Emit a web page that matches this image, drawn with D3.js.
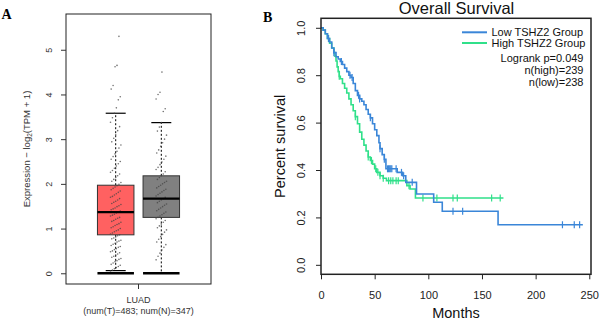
<!DOCTYPE html>
<html>
<head>
<meta charset="utf-8">
<script src="https://cdn.jsdelivr.net/npm/d3@7"></script>
<style>
  body { margin: 0; background: #fff; }
  svg { display: block; font-family: "Liberation Sans", Arial, sans-serif; }
</style>
</head>
<body>
<svg id="chart" width="600" height="325"></svg>
<script>
// ---- Panel A : boxplot data (LUAD) ----
const groups = ["Tumor", "Normal"];
const boxColors = ["#ff6161", "#808080"];
const q1 = [0.86, 1.25];
const median = [1.37, 1.67];
const q3 = [1.97, 2.18];
const whiskerLo = [0.06, 0];
const whiskerHi = [3.58, 3.37];
const tumorPoints = [0.05,0.07,0.1,0.13,0.15,0.18,0.2,0.23,0.26,0.28,0.31,0.33,0.36,0.38,0.41,0.43,0.46,0.48,0.5,0.53,0.55,0.58,0.6,0.62,0.65,0.67,0.7,0.72,0.74,0.77,0.79,0.81,0.84,0.86,0.88,0.9,0.93,0.95,0.97,1.0,1.02,1.04,1.07,1.09,1.11,1.14,1.16,1.18,1.21,1.23,1.25,1.28,1.3,1.32,1.35,1.37,1.39,1.42,1.44,1.46,1.49,1.51,1.54,1.56,1.59,1.61,1.64,1.67,1.7,1.72,1.75,1.78,1.81,1.84,1.87,1.9,1.93,1.96,1.99,2.03,2.06,2.1,2.14,2.18,2.22,2.26,2.3,2.35,2.4,2.45,2.5,2.55,2.61,2.67,2.73,2.8,2.87,2.94,3.02,3.1,3.19,3.28,3.38,3.48,3.58,3.7,3.88,3.95,4.12,4.2,4.62,4.65,5.3];
const normalPoints = [0.3,0.38,0.45,0.52,0.58,0.64,0.7,0.76,0.82,0.87,0.92,0.97,1.02,1.06,1.1,1.14,1.18,1.22,1.25,1.28,1.31,1.34,1.37,1.4,1.43,1.46,1.49,1.52,1.55,1.58,1.61,1.64,1.67,1.7,1.73,1.76,1.79,1.82,1.85,1.88,1.91,1.94,1.97,2.0,2.03,2.06,2.1,2.14,2.18,2.22,2.27,2.32,2.37,2.43,2.49,2.55,2.62,2.69,2.76,2.84,2.92,3.0,3.09,3.18,3.27,3.37,3.62,3.68,3.9,4.0,4.05,4.5];
const boxTicks = [0, 1, 2, 3, 4, 5];

// ---- Panel B : Kaplan-Meier data ----
const lowTimes = [0,2,4,6,8,10,12,14,16,18,20,22,24,26,28,30,32,34,36,38,40,42,44,46,48,50,52,54,55,57,59,60.5,71,76,79,89,105,113,165];
const lowSurv  = [1.0,0.99,0.975,0.955,0.94,0.915,0.895,0.878,0.868,0.858,0.845,0.83,0.815,0.80,0.79,0.765,0.735,0.715,0.70,0.69,0.675,0.655,0.635,0.62,0.595,0.57,0.545,0.515,0.49,0.465,0.445,0.405,0.39,0.376,0.348,0.299,0.264,0.226,0.169];
const lowEnd = 244;
const lowCensor = [7,12,19,27,29,35,36,46,55,59,62,63,64,65,66,70,75,77,85,123,132,225,236,241];
const highTimes = [0,2,4,6,8,10,12,13,14,15,16,17,18,20,22,24,26,28,30,32,34,36,38,40,42,44,46,48,50,52,55,58,61,80,83,88];
const highSurv  = [1.0,0.99,0.975,0.955,0.935,0.915,0.895,0.88,0.86,0.835,0.815,0.795,0.785,0.765,0.745,0.725,0.70,0.675,0.65,0.625,0.595,0.56,0.53,0.505,0.48,0.455,0.44,0.425,0.405,0.39,0.376,0.365,0.355,0.334,0.32,0.282];
const highEnd = 170;
const highCensor = [7,17,32,44,47,51,53,55,58,63,65,67,70,72,82,95,108,123,127,159,167];
const kmXTicks = [0, 50, 100, 150, 200, 250];
const kmYTicks = [0, 0.2, 0.4, 0.6, 0.8, 1.0];
const kmSeries = ["Low TSHZ2 Group", "High TSHZ2 Group"];
const kmColors = ["#3a86d8", "#30e08a"];
const kmStats = ["Logrank p=0.049", "n(high)=239", "n(low)=238"];

const svg = d3.select("#chart");

// =================== Panel A ===================
const A = { left: 66, right: 211, top: 14, bottom: 284 };
const yA = d3.scaleLinear().domain([-0.24, 5.8]).range([A.bottom, A.top]);
const xA = d3.scalePoint().domain(groups).range([A.left, A.right]).padding(1.09);
const boxW = 36.5, capW = 20;

const gA = svg.append("g");

// boxes
groups.forEach((g, i) => {
  const cx = xA(g);
  // whiskers (dashed)
  gA.append("line").attr("x1", cx).attr("x2", cx)
    .attr("y1", yA(q3[i])).attr("y2", yA(whiskerHi[i]))
    .attr("stroke", "#000").attr("stroke-dasharray", "2,2");
  gA.append("line").attr("x1", cx).attr("x2", cx)
    .attr("y1", yA(q1[i])).attr("y2", yA(whiskerLo[i]))
    .attr("stroke", "#000").attr("stroke-dasharray", "2,2");
  // caps
  gA.append("line").attr("x1", cx - capW / 2).attr("x2", cx + capW / 2)
    .attr("y1", yA(whiskerHi[i])).attr("y2", yA(whiskerHi[i]))
    .attr("stroke", "#000").attr("stroke-width", 1.2);
  if (whiskerLo[i] > 0) {
    gA.append("line").attr("x1", cx - capW / 2).attr("x2", cx + capW / 2)
      .attr("y1", yA(whiskerLo[i])).attr("y2", yA(whiskerLo[i]))
      .attr("stroke", "#000").attr("stroke-width", 1.2);
  }
  // box
  gA.append("rect")
    .attr("x", cx - boxW / 2).attr("width", boxW)
    .attr("y", yA(q3[i])).attr("height", yA(q1[i]) - yA(q3[i]))
    .attr("fill", boxColors[i]).attr("stroke", "#333").attr("stroke-width", 1);
  // zero bar
  gA.append("line").attr("x1", cx - boxW / 2).attr("x2", cx + boxW / 2)
    .attr("y1", yA(0)).attr("y2", yA(0))
    .attr("stroke", "#000").attr("stroke-width", 2.5);
});

// jittered points (deterministic offset by index)
[tumorPoints, normalPoints].forEach((pts, gi) => {
  const cx = xA(groups[gi]);
  gA.append("g").selectAll("circle")
    .data(pts)
    .join("circle")
    .attr("cx", (d, i) => cx + (((i * 37) % 17) - 8) * 0.65)
    .attr("cy", d => yA(d))
    .attr("r", 0.8)
    .attr("fill", "#444")
    .attr("opacity", 0.75);
});

// medians
groups.forEach((g, i) => {
  const cx = xA(g);
  gA.append("line").attr("x1", cx - boxW / 2).attr("x2", cx + boxW / 2)
    .attr("y1", yA(median[i])).attr("y2", yA(median[i]))
    .attr("stroke", "#000").attr("stroke-width", 2.2);
});

// frame
gA.append("rect").attr("x", A.left).attr("y", A.top)
  .attr("width", A.right - A.left).attr("height", A.bottom - A.top)
  .attr("fill", "none").attr("stroke", "#222").attr("stroke-width", 1);

// y axis
gA.append("g")
  .attr("transform", `translate(${A.left},0)`)
  .call(d3.axisLeft(yA).tickValues(boxTicks).tickSize(5).tickFormat(d3.format("d")))
  .call(g => g.select(".domain").remove())
  .call(g => g.selectAll(".tick line").attr("stroke", "#333"))
  .call(g => g.selectAll("text")
    .attr("x", 0).attr("dy", 0)
    .attr("transform", "translate(-14,0) rotate(-90)")
    .attr("text-anchor", "middle")
    .attr("fill", "#333")
    .style("font-size", "9px")
    .style("font-family", "Liberation Sans, Arial, sans-serif"));

// x axis tick
gA.append("line").attr("x1", 138.5).attr("x2", 138.5)
  .attr("y1", A.bottom).attr("y2", A.bottom + 5).attr("stroke", "#333");

const yLab = gA.append("text")
  .attr("transform", `translate(29.5,${(A.top + A.bottom) / 2}) rotate(-90)`)
  .attr("text-anchor", "middle")
  .attr("fill", "#333")
  .style("font-size", "9.5px");
yLab.append("tspan").text("Expression − log");
yLab.append("tspan").attr("dy", 2.5).style("font-size", "6.5px").text("2");
yLab.append("tspan").attr("dy", -2.5).text("(TPM + 1)");

gA.append("text").attr("x", 138.5).attr("y", 303)
  .attr("text-anchor", "middle").attr("fill", "#333").style("font-size", "9px").text("LUAD");
gA.append("text").attr("x", 138.5).attr("y", 314)
  .attr("text-anchor", "middle").attr("fill", "#333").style("font-size", "9px")
  .text("(num(T)=483; num(N)=347)");

svg.append("text").attr("x", 1.5).attr("y", 18.5)
  .style("font-family", "Liberation Serif, Times New Roman, serif")
  .style("font-weight", "bold").style("font-size", "14px").text("A");

// =================== Panel B ===================
const B = { left: 321, right: 591, top: 18.3, bottom: 274.3 };
const xB = d3.scaleLinear().domain([0, 251.6]).range([B.left, B.right]);
const yB = d3.scaleLinear().domain([-0.04, 1.04]).range([B.bottom, B.top]);
const gB = svg.append("g");

function stepValue(times, surv, t) {
  let s = surv[0];
  for (let i = 0; i < times.length; i++) if (times[i] <= t) s = surv[i];
  return s;
}

const kmLine = d3.line().x(d => xB(d[0])).y(d => yB(d[1])).curve(d3.curveStepAfter);

const kmData = [
  { times: lowTimes, surv: lowSurv, end: lowEnd, censor: lowCensor },
  { times: highTimes, surv: highSurv, end: highEnd, censor: highCensor }
];

// draw high first so low (blue) sits on top where overlapping at start
[1, 0].forEach(k => {
  const d = kmData[k];
  const pts = d.times.map((t, i) => [t, d.surv[i]]);
  pts.push([d.end, d.surv[d.surv.length - 1]]);
  gB.append("path").attr("d", kmLine(pts))
    .attr("fill", "none").attr("stroke", kmColors[k]).attr("stroke-width", 1.6);
  gB.append("g").selectAll("line")
    .data(d.censor)
    .join("line")
    .attr("x1", t => xB(t)).attr("x2", t => xB(t))
    .attr("y1", t => yB(stepValue(d.times, d.surv, t)) - 3.5)
    .attr("y2", t => yB(stepValue(d.times, d.surv, t)) + 3.5)
    .attr("stroke", kmColors[k]).attr("stroke-width", 1.2);
});

// frame
gB.append("rect").attr("x", B.left).attr("y", B.top)
  .attr("width", B.right - B.left).attr("height", B.bottom - B.top)
  .attr("fill", "none").attr("stroke", "#222").attr("stroke-width", 1.5);

// axes
gB.append("g")
  .attr("transform", `translate(0,${B.bottom})`)
  .call(d3.axisBottom(xB).tickValues(kmXTicks).tickSize(5).tickFormat(d3.format("d")))
  .call(g => g.select(".domain").remove())
  .call(g => g.selectAll(".tick line").attr("stroke", "#222"))
  .call(g => g.selectAll("text")
    .attr("y", 0).attr("dy", 0)
    .attr("transform", "translate(0,24.5)")
    .attr("fill", "#222")
    .style("font-size", "11px")
    .style("font-family", "Liberation Sans, Arial, sans-serif"));

gB.append("g")
  .attr("transform", `translate(${B.left},0)`)
  .call(d3.axisLeft(yB).tickValues(kmYTicks).tickSize(5).tickFormat(d3.format(".1f")))
  .call(g => g.select(".domain").remove())
  .call(g => g.selectAll(".tick line").attr("stroke", "#222"))
  .call(g => g.selectAll("text")
    .attr("x", 0).attr("dy", 0)
    .attr("transform", "translate(-16,0) rotate(-90)")
    .attr("text-anchor", "middle")
    .attr("fill", "#222")
    .style("font-size", "11px")
    .style("font-family", "Liberation Sans, Arial, sans-serif"));

gB.append("text").attr("x", 456.5).attr("y", 14)
  .attr("text-anchor", "middle").attr("fill", "#111").style("font-size", "16.5px").text("Overall Survival");
gB.append("text").attr("x", 456).attr("y", 318)
  .attr("text-anchor", "middle").attr("fill", "#111").style("font-size", "14.5px").text("Months");
gB.append("text")
  .attr("transform", `translate(285,${(B.top + B.bottom) / 2}) rotate(-90)`)
  .attr("text-anchor", "middle").attr("fill", "#111").style("font-size", "14.5px").text("Percent survival");

// legend
const legY = [32.3, 43];
kmSeries.forEach((s, i) => {
  gB.append("line").attr("x1", 462).attr("x2", 487)
    .attr("y1", legY[i]).attr("y2", legY[i])
    .attr("stroke", kmColors[i]).attr("stroke-width", 2);
  gB.append("text").attr("x", 491.5).attr("y", legY[i] + 4)
    .attr("fill", "#111").style("font-size", "11px").text(s);
});
const statY = [61.5, 73.5, 85.5];
kmStats.forEach((s, i) => {
  gB.append("text").attr("x", 583.5).attr("y", statY[i])
    .attr("text-anchor", "end").attr("fill", "#111").style("font-size", "11px").text(s);
});

svg.append("text").attr("x", 263).attr("y", 21.7)
  .style("font-family", "Liberation Serif, Times New Roman, serif")
  .style("font-weight", "bold").style("font-size", "14px").text("B");
</script>
</body>
</html>
